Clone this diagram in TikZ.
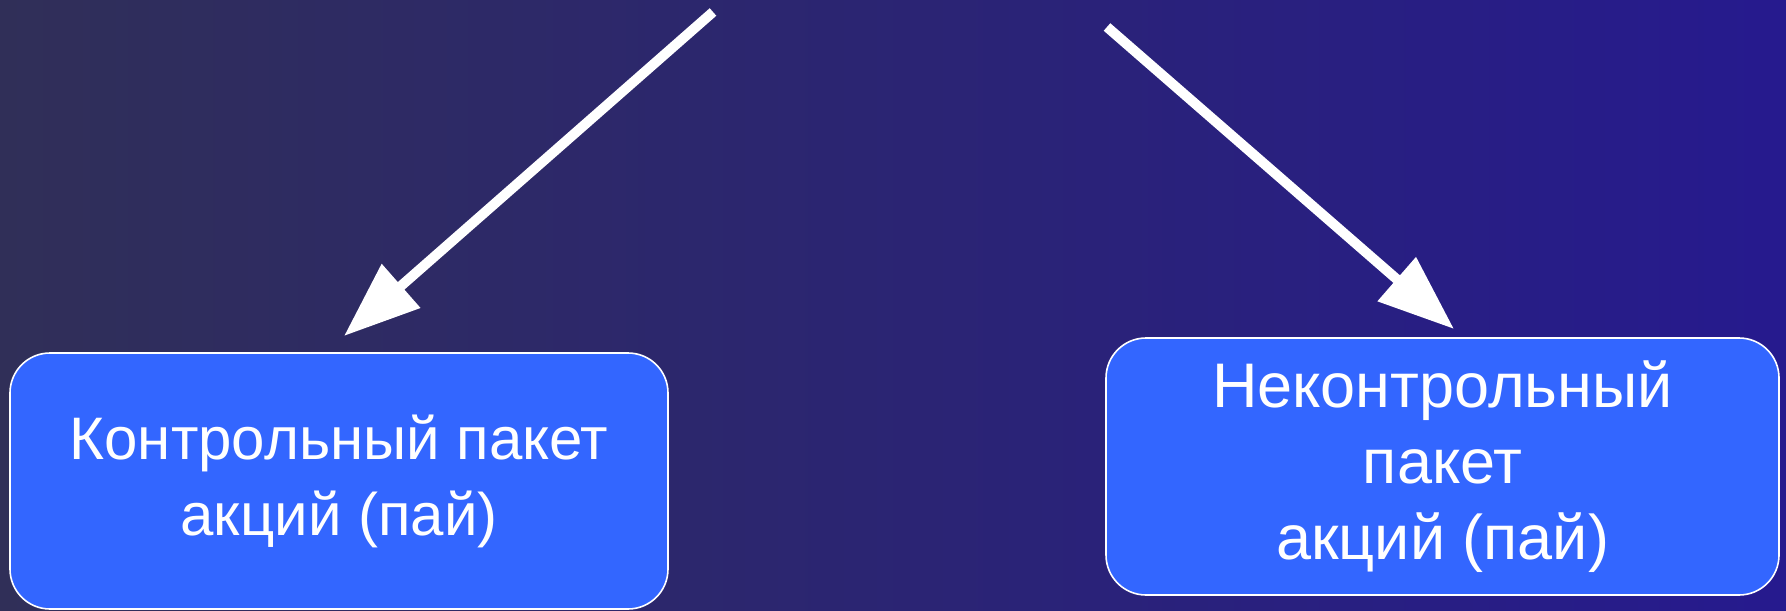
\documentclass[tikz,border=0pt]{standalone}
\usepackage{fontspec}
\setmainfont{Liberation Sans}
\usetikzlibrary{arrows.meta}

\definecolor{bgleft}{RGB}{48,47,88}
\definecolor{bgright}{RGB}{38,26,142}
\definecolor{boxblue}{RGB}{51,102,255}

\tikzset{
    stockbox/.style={draw=white, line width=0.8pt, fill=boxblue, rounded corners=20pt,
        text=white, align=center, inner sep=0pt,
        font=\fontsize{31.5}{38}\selectfont},
    whitearrow/.style={draw=white, line width=5pt,
        -{Triangle[length=38pt, width=28pt]}}
}

\begin{document}
\begin{tikzpicture}[x=0.5pt, y=-0.5pt]
    \shade [left color=bgleft, right color=bgright] (0,0) rectangle (1786,610);% background
    \useasboundingbox (0,0) rectangle (1786,610);
    % the two boxes
    \node [stockbox, font=\fontsize{30}{38}\selectfont,
        minimum width=329pt, minimum height=128pt] (Control) at (339,481)
        {Контрольный пакет\\акций (пай)};
    \node [stockbox, minimum width=336.5pt, minimum height=128.5pt] (NonControl) at (1442.5,466.5)
        {Неконтрольный\\пакет\\акций (пай)};
    % arrow ends
    \coordinate (LeftStart)  at (713,12);
    \coordinate (LeftTip)    at (344,336);
    \coordinate (RightStart) at (1107,27);
    \coordinate (RightTip)   at (1454,329);
    \draw [whitearrow] (LeftStart) -- (LeftTip);
    \draw [whitearrow] (RightStart) -- (RightTip);
\end{tikzpicture}
\end{document}
